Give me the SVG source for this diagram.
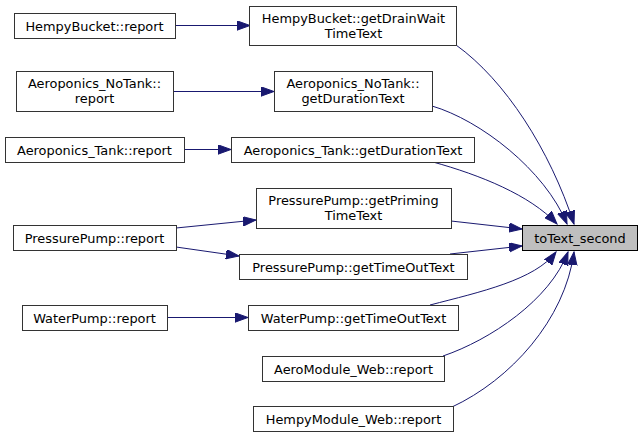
<svg xmlns="http://www.w3.org/2000/svg" width="643" height="438" viewBox="0 0 643 438">
<defs>
<style>
.node rect{fill:#ffffff;stroke:#333333;stroke-width:1}
.node text{font-family:"DejaVu Sans",sans-serif;font-size:12.9px;fill:#000;text-anchor:middle}
#target rect{fill:#bfbfbf;stroke:#000}
.edge{fill:none;stroke:#191970;stroke-width:1;marker-end:url(#ah)}
</style>
<marker id="ah" markerUnits="userSpaceOnUse" markerWidth="14" markerHeight="10" refX="13" refY="4.7" orient="auto">
<path d="M0,0 L13,4.7 L0,9.4 z" fill="#191970" stroke="#191970" stroke-width="1"/>
</marker>
</defs>
<rect width="643" height="438" fill="#ffffff"/>
<g id="edges">
<path class="edge" d="M175,25.5 L250,25.5"/>
<path class="edge" d="M173,91.5 L274,91.5"/>
<path class="edge" d="M184,149.5 L231,149.5"/>
<path class="edge" d="M176,228 L256,220"/>
<path class="edge" d="M176,247 L239,256"/>
<path class="edge" d="M167,317.5 L248,317.5"/>
<path class="edge" d="M456,45 C505,80 550,150 574,224"/>
<path class="edge" d="M432,106 C480,120 545,170 567,224"/>
<path class="edge" d="M433,162 C480,175 530,195 557,224"/>
<path class="edge" d="M451,221 L522,229"/>
<path class="edge" d="M450,254 L522,246"/>
<path class="edge" d="M430,305 C480,292 535,280 556,252"/>
<path class="edge" d="M443,356 C490,340 550,300 568,252"/>
<path class="edge" d="M452,407 C510,380 565,320 574,252"/>
</g>
<g id="hb_report" class="node"><rect x="14.5" y="13.5" width="161" height="25"/><text x="94.5" y="30.5">HempyBucket::report</text></g>
<g id="ant_report" class="node"><rect x="16.5" y="71.5" width="157" height="40"/><text x="94.5" y="88">Aeroponics_NoTank::</text><text x="94.5" y="103">report</text></g>
<g id="at_report" class="node"><rect x="5.5" y="137.5" width="179" height="25"/><text x="94.5" y="154.5">Aeroponics_Tank::report</text></g>
<g id="pp_report" class="node"><rect x="13.5" y="225.5" width="163" height="25"/><text x="94.5" y="242.5">PressurePump::report</text></g>
<g id="wp_report" class="node"><rect x="22.5" y="305.5" width="145" height="25"/><text x="94.5" y="322.5">WaterPump::report</text></g>
<g id="hb_drain" class="node"><rect x="249.5" y="6.5" width="207" height="39"/><text x="353.5" y="22.5">HempyBucket::getDrainWait</text><text x="353.5" y="37.5">TimeText</text></g>
<g id="ant_dur" class="node"><rect x="274.5" y="71.5" width="158" height="40"/><text x="353" y="88">Aeroponics_NoTank::</text><text x="353" y="103">getDurationText</text></g>
<g id="at_dur" class="node"><rect x="231.5" y="137.5" width="243" height="25"/><text x="353" y="154.5">Aeroponics_Tank::getDurationText</text></g>
<g id="pp_prime" class="node"><rect x="256.5" y="188.5" width="195" height="40"/><text x="353.5" y="205">PressurePump::getPriming</text><text x="353.5" y="220">TimeText</text></g>
<g id="pp_timeout" class="node"><rect x="239.5" y="254.5" width="228" height="25"/><text x="353.5" y="271.5">PressurePump::getTimeOutText</text></g>
<g id="wp_timeout" class="node"><rect x="248.5" y="305.5" width="210" height="25"/><text x="353.5" y="322.5">WaterPump::getTimeOutText</text></g>
<g id="aero_web" class="node"><rect x="262.5" y="356.5" width="182" height="25"/><text x="353.5" y="373.5">AeroModule_Web::report</text></g>
<g id="hempy_web" class="node"><rect x="253.5" y="406.5" width="200" height="25"/><text x="353.5" y="423.5">HempyModule_Web::report</text></g>
<g id="target" class="node"><rect x="522.5" y="225.5" width="115" height="25"/><text x="580" y="242.5">toText_second</text></g>
</svg>
